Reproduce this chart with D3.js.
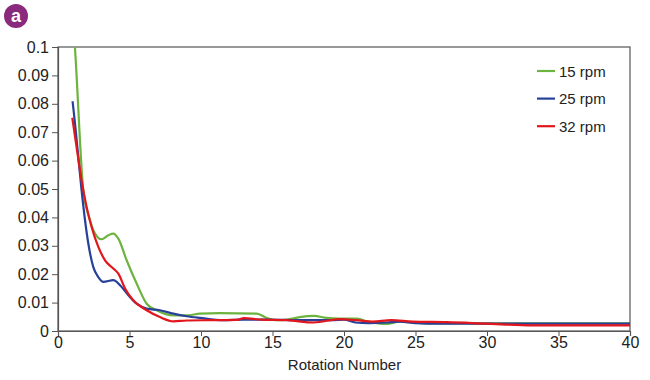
<!DOCTYPE html>
<html><head><meta charset="utf-8">
<script src="https://cdn.jsdelivr.net/npm/d3@7"></script>
<style>body{margin:0;background:#fff;} text{font-family:"Liberation Sans",Arial,sans-serif;}</style>
</head><body>
<svg id="c" width="650" height="380"></svg>
<script>
const xTicks = [0,5,10,15,20,25,30,35,40];
const yTicks = [0,0.01,0.02,0.03,0.04,0.05,0.06,0.07,0.08,0.09,0.1];
const seriesNames = ["15 rpm","25 rpm","32 rpm"];
const seriesColors = ["#6db33f","#27409a","#e2161d"];
const rpm15 = [[1.1,0.106],[1.19,0.0994],[1.77,0.0495],[2.24,0.039],[2.47,0.0355],[3.05,0.0323],[3.52,0.0337],[3.87,0.0343],[4.22,0.0325],[4.8,0.0249],[5.5,0.0167],[6.2,0.0096],[6.9,0.0073],[8.07,0.0055],[9.0,0.0055],[9.93,0.0061],[11.3,0.0063],[13.9,0.0061],[14.6,0.0046],[15.3,0.0038],[16.0,0.004],[16.9,0.0049],[17.9,0.0053],[18.8,0.0046],[19.7,0.0044],[20.9,0.0044],[21.4,0.0037],[22.5,0.0026],[23.0,0.0025],[23.9,0.0033],[25.8,0.0027],[27.2,0.0027],[30,0.0027],[35,0.0027],[40,0.0027]];
const rpm25 = [[1.02,0.0809],[1.19,0.073],[1.42,0.0613],[1.65,0.0495],[1.89,0.039],[2.12,0.0308],[2.47,0.0225],[2.82,0.019],[3.17,0.0173],[3.87,0.0179],[4.34,0.0161],[4.92,0.0126],[5.5,0.0096],[6.2,0.0079],[7.13,0.0073],[8.07,0.0061],[9.0,0.0052],[9.93,0.0046],[11.56,0.0038],[13.0,0.004],[14.6,0.004],[16.9,0.0038],[19.2,0.0038],[20.0,0.004],[20.8,0.003],[21.7,0.0028],[23.0,0.003],[23.9,0.0033],[25.0,0.0028],[26.8,0.0026],[30,0.0026],[33.2,0.0026],[40,0.0026]];
const rpm32 = [[1.0,0.0751],[1.3,0.0648],[1.65,0.053],[2.0,0.0437],[2.35,0.0366],[2.82,0.0296],[3.29,0.0249],[3.87,0.022],[4.22,0.0202],[4.7,0.0149],[5.26,0.0108],[6.2,0.0073],[7.13,0.0049],[8.07,0.0034],[9.0,0.0037],[10.6,0.0038],[12.5,0.0039],[13.0,0.0045],[14.2,0.004],[16.0,0.0038],[17.9,0.003],[19.7,0.0042],[20.9,0.0038],[22.0,0.0033],[23.3,0.0038],[24.8,0.0033],[27.2,0.0031],[29.9,0.0026],[33.2,0.002],[40,0.002]];
const allSeries = [rpm15, rpm25, rpm32];

const L=58, R=630, T=47, B=331;
const svg = d3.select("#c");
const x = d3.scaleLinear().domain([0,40]).range([L,R]);
const y = d3.scaleLinear().domain([0,0.1]).range([B,T]);

// badge
svg.append("circle").attr("cx",16).attr("cy",16).attr("r",12).attr("fill","#8a2a7c");
svg.append("text").attr("x",16).attr("y",22).attr("text-anchor","middle").attr("fill","#fff")
  .attr("font-size",18).attr("font-weight","bold").text("a");

// frame
svg.append("rect").attr("x",L).attr("y",T).attr("width",R-L).attr("height",B-T)
  .attr("fill","none").attr("stroke","#555").attr("stroke-width",1.2);

svg.append("defs").append("clipPath").attr("id","clip").append("rect")
  .attr("x",L).attr("y",T).attr("width",R-L).attr("height",B-T);

const yAxis = svg.append("g").attr("transform",`translate(${L},0)`)
  .call(d3.axisLeft(y).tickValues(yTicks).tickSize(6).tickPadding(3).tickFormat(d=>d3.format("~g")(d)));
const xAxis = svg.append("g").attr("transform",`translate(0,${B})`)
  .call(d3.axisBottom(x).tickValues(xTicks).tickSize(5).tickPadding(1));
[yAxis,xAxis].forEach(g=>{
  g.select(".domain").attr("stroke","#555").attr("stroke-width",1.2);
  g.selectAll(".tick line").attr("stroke","#555");
  g.selectAll("text").attr("font-size",16).attr("fill","#222").attr("font-family","Liberation Sans, Arial, sans-serif");
});

svg.append("text").attr("x",344.5).attr("y",370).attr("text-anchor","middle")
  .attr("font-size",15).attr("fill","#222").text("Rotation Number");

const line = d3.line().x(d=>x(d[0])).y(d=>y(d[1])).curve(d3.curveMonotoneX);
const lines = svg.append("g").attr("clip-path","url(#clip)");
allSeries.forEach((s,i)=>{
  lines.append("path").datum(s).attr("d",line).attr("fill","none")
    .attr("stroke",seriesColors[i]).attr("stroke-width",2.2).attr("stroke-linejoin","round");
});

// legend
const lg = svg.append("g");
seriesNames.forEach((n,i)=>{
  const yy = 71 + i*27.6;
  lg.append("line").attr("x1",537).attr("x2",555).attr("y1",yy).attr("y2",yy)
    .attr("stroke",seriesColors[i]).attr("stroke-width",2.2);
  lg.append("text").attr("x",559).attr("y",yy+5.5).attr("font-size",15).attr("fill","#222").text(n);
});
</script>
</body></html>
